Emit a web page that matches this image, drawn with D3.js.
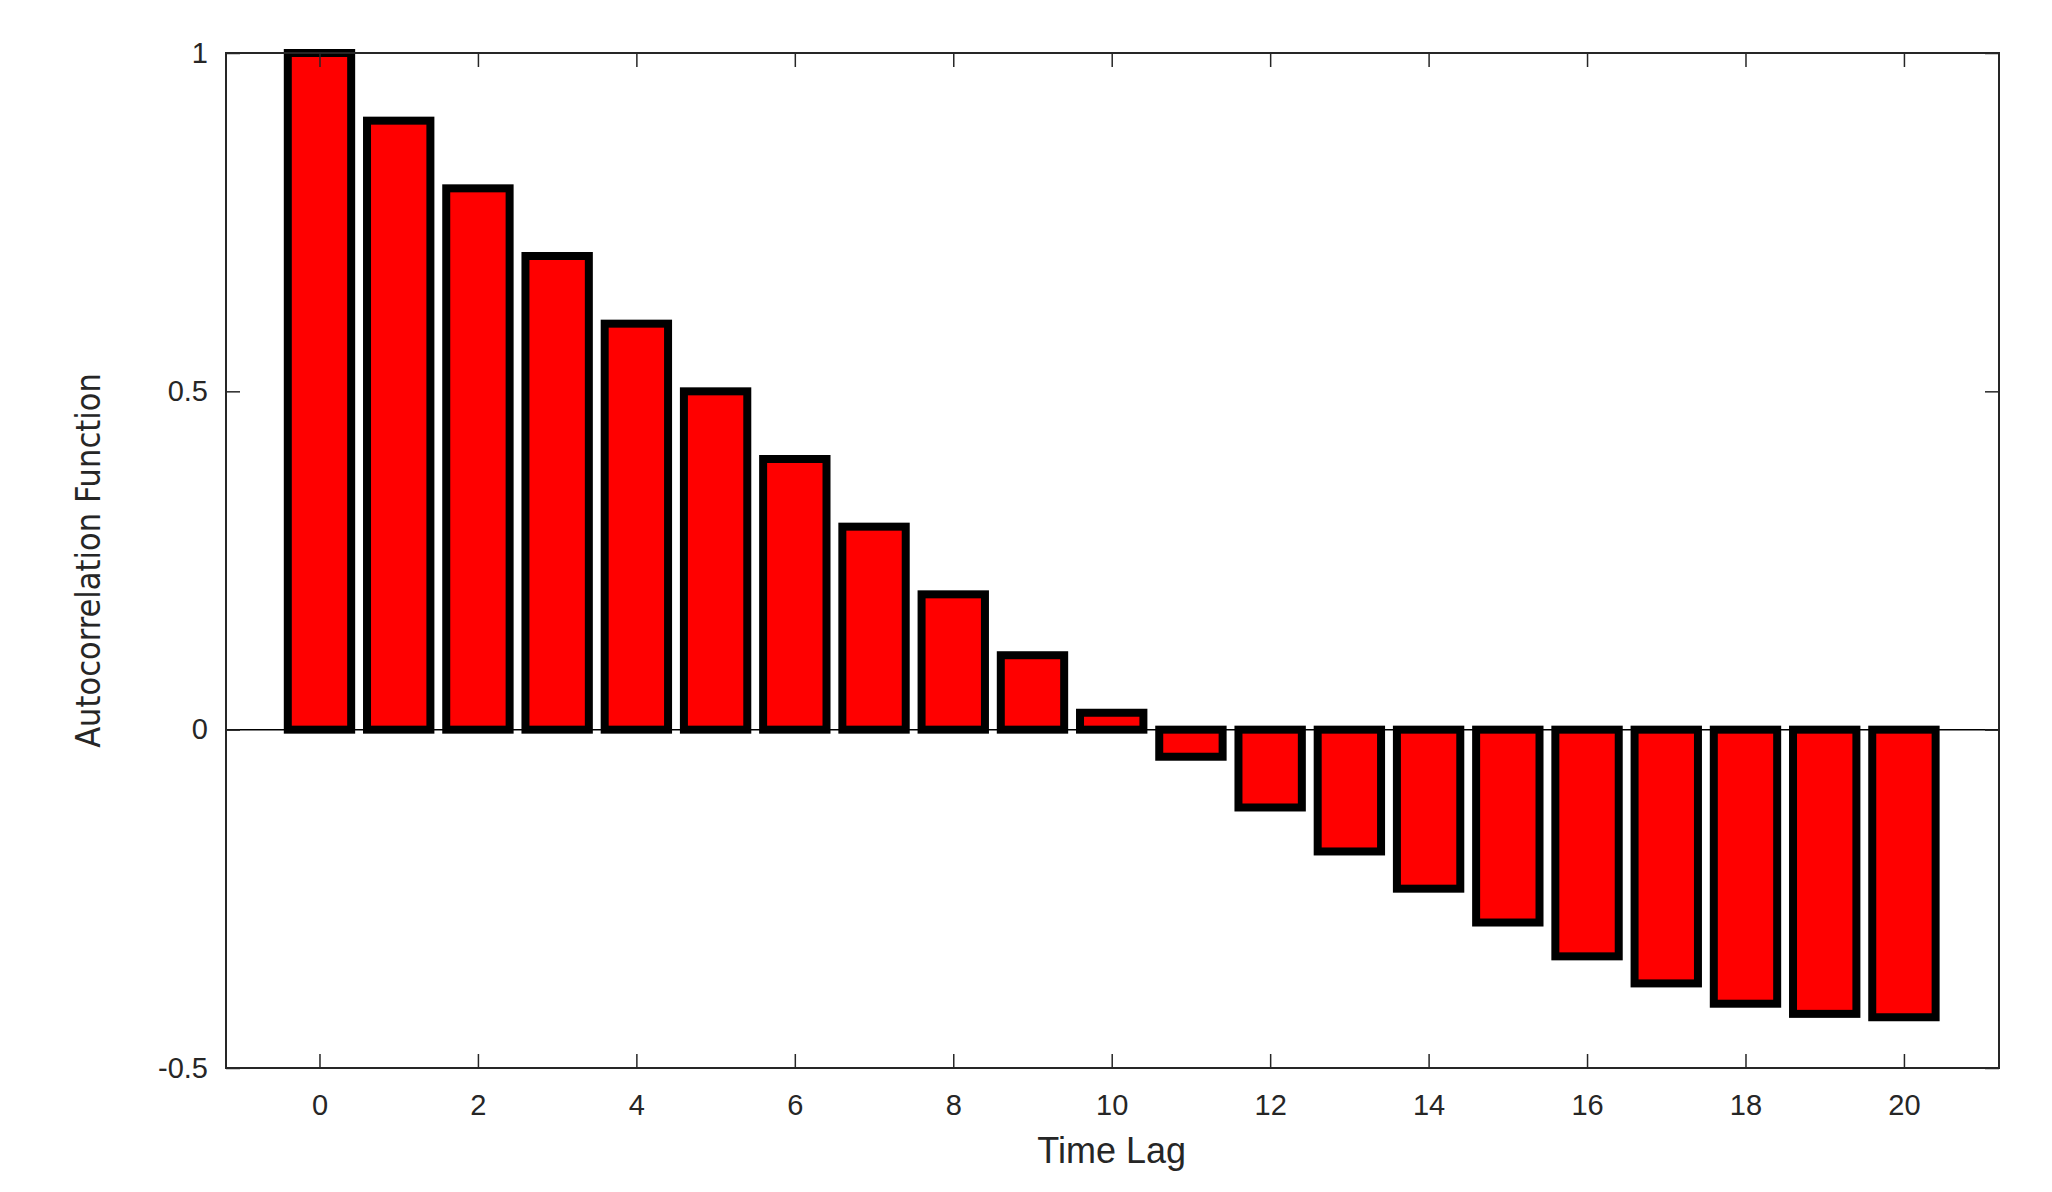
<!DOCTYPE html>
<html><head><meta charset="utf-8">
<script src="https://cdn.jsdelivr.net/npm/d3@7"></script>
<style>body{margin:0;background:#fff}text{font-family:"Liberation Sans",Arial,sans-serif}</style>
</head><body><div id="chart"></div>
<script>
var lags = d3.range(0, 21);
var acf = [1, 0.90, 0.80, 0.70, 0.60, 0.50, 0.40, 0.30, 0.20, 0.11, 0.025, -0.04, -0.115, -0.18, -0.235, -0.285, -0.335, -0.375, -0.405, -0.42, -0.425];
var xTicks = [0, 2, 4, 6, 8, 10, 12, 14, 16, 18, 20];
var yTicks = [-0.5, 0, 0.5, 1];

var W = 2052, H = 1192, L = 226, R = 1999, T = 53, B = 1068;
var svg = d3.select("#chart").append("svg").attr("width", W).attr("height", H);
var x = d3.scaleLinear().domain([-1.18, 21.2]).range([L, R]);
var y = d3.scaleLinear().domain([-0.5, 1]).range([B, T]);
var bw = (x(1) - x(0)) * 0.8;

svg.append("g").selectAll("rect").data(lags).enter().append("rect")
    .attr("x", d => x(d) - bw / 2)
    .attr("y", d => y(Math.max(0, acf[d])))
    .attr("width", bw)
    .attr("height", d => Math.abs(y(acf[d]) - y(0)))
    .attr("fill", "#ff0000").attr("stroke", "#000").attr("stroke-width", 8);

svg.append("line").attr("x1", L).attr("x2", R).attr("y1", y(0)).attr("y2", y(0)).attr("stroke", "#000").attr("stroke-width", 1.5);

var ax = d3.axisBottom(x).tickValues(xTicks).tickSize(-14).tickPadding(26).tickFormat(d3.format("d"));
var ay = d3.axisLeft(y).tickValues(yTicks).tickSize(-14).tickPadding(18).tickFormat(d => d);
var gx = svg.append("g").attr("transform", "translate(0," + B + ")").call(ax);
var gy = svg.append("g").attr("transform", "translate(" + L + ",0)").call(ay);
svg.append("g").attr("transform", "translate(0," + T + ")").call(d3.axisTop(x).tickValues(xTicks).tickSize(-14).tickFormat(""));
svg.append("g").attr("transform", "translate(" + R + ",0)").call(d3.axisRight(y).tickValues(yTicks).tickSize(-14).tickFormat(""));
svg.selectAll(".domain").remove();
svg.selectAll(".tick line").attr("stroke", "#262626").attr("stroke-width", 1.5);
svg.selectAll(".tick text").attr("font-size", 29).attr("fill", "#262626").style("font-family", "Liberation Sans, Arial");
svg.append("rect").attr("x", L).attr("y", T).attr("width", R - L).attr("height", B - T)
    .attr("fill", "none").attr("stroke", "#262626").attr("stroke-width", 2);

svg.append("text").attr("x", x(10)).attr("y", 1163).attr("text-anchor", "middle")
    .attr("font-size", 36).attr("fill", "#262626").text("Time Lag");
svg.append("text").attr("transform", "translate(100," + y(0.25) + ") rotate(-90)")
    .attr("text-anchor", "middle").attr("font-size", 34).attr("fill", "#262626")
    .style("font-family", "'Liberation Sans Narrow', 'DejaVu Sans Condensed', sans-serif")
    .text("Autocorrelation Function");
</script></body></html>
